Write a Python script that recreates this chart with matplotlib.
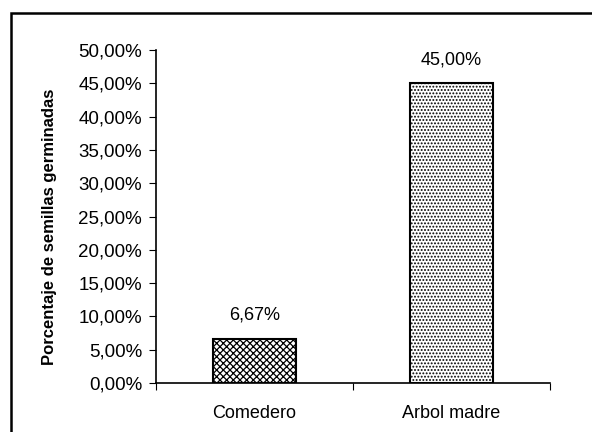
import matplotlib.pyplot as plt
import numpy as np
from matplotlib.patches import Rectangle

categories = ['Comedero', 'Arbol madre']
values = [0.0667, 0.45]
hatches = ['xxxxx', '.....']
y_ticks = np.arange(0, 0.501, 0.05)

plt.rcParams['font.family'] = ['Liberation Sans', 'DejaVu Sans']
plt.rcParams['hatch.linewidth'] = 0.9

fig = plt.figure(figsize=(5.92, 4.32), dpi=100)
# outer frame (only left and top visible in the scan)
fig.patches.append(Rectangle((11 / 592, -0.1), 1.2, 1.1 - 13 / 432,
                             transform=fig.transFigure, fill=False,
                             edgecolor='black', linewidth=1.8))

ax = fig.add_axes([156 / 592, 49 / 432, 394 / 592, 333 / 432])
x = np.arange(len(categories))
bars = ax.bar(x, values, width=0.42, color='white', edgecolor='black',
              linewidth=1.5)
for b, h in zip(bars, hatches):
    b.set_hatch(h)

for xi, v in zip(x, values):
    ax.annotate(f'{v * 100:.2f}%'.replace('.', ','), (xi, v),
                xytext=(0, 11), textcoords='offset points',
                ha='center', va='bottom', fontsize=13)

ax.set_xlim(-0.5, 1.5)
ax.set_ylim(0, 0.5)
ax.set_yticks(y_ticks)
ax.set_yticklabels([f'{t * 100:.2f}%'.replace('.', ',') for t in y_ticks],
                   fontsize=13.5)
ax.set_xticks([-0.5, 0.5, 1.5])
ax.set_xticklabels([])
ax.set_xticks(x, minor=True)
ax.set_xticklabels(categories, minor=True, fontsize=13)
ax.tick_params(axis='x', which='minor', length=0, pad=16)
ax.tick_params(axis='x', which='major', length=5, direction='out')
ax.tick_params(axis='y', length=5, direction='out', pad=5)
ax.spines['top'].set_visible(False)
ax.spines['right'].set_visible(False)
ax.spines['left'].set_linewidth(1.2)
ax.spines['bottom'].set_linewidth(1.2)
ax.set_ylabel('Porcentaje de semillas germinadas', fontsize=12,
              fontweight='bold', labelpad=12)
ax.yaxis.set_label_coords(-0.25, 0.47)

fig.savefig('out.png', dpi=100)
